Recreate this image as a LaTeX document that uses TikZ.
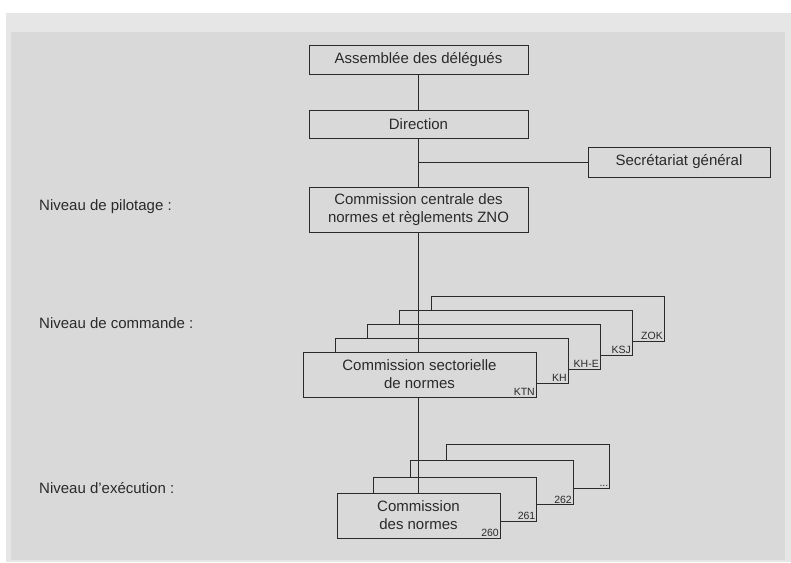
\documentclass[tikz,border=0pt]{standalone}
\usepackage{fontspec}
\setmainfont{Liberation Sans}
\definecolor{outerbg}{HTML}{E6E6E6}
\definecolor{innerbg}{HTML}{D9D9D9}
\definecolor{ink}{HTML}{2A2A2A}
\newcommand{\tagdots}{...}
\begin{document}
\begin{tikzpicture}[x=1pt,y=-1pt,
  box/.style={draw=ink, line width=1pt, fill=innerbg, rectangle, inner sep=0pt,
    align=center, text=ink, font=\fontsize{15}{18}\selectfont},
  tag/.style={inner sep=1.5pt, text=ink, font=\fontsize{10.5}{12}\selectfont, anchor=south east},
  lvl/.style={anchor=west, inner sep=0pt, text=ink, font=\fontsize{15}{17}\selectfont},
  link/.style={draw=ink, line width=1pt}]
\useasboundingbox (0,0) rectangle (791,562);
\fill[white] (0,0) rectangle (791,562);
\fill[outerbg] (6,13) rectangle (791,562);
\fill[innerbg] (11,32) rectangle (785,560);

% top chain
\node[box, minimum width=219pt, minimum height=29pt] (asm) at (418.5,59.5) {Assemblée des délégués};
\node[box, minimum width=219pt, minimum height=28pt] (dir) at (418.5,124) {Direction};
\node[box, minimum width=182pt, minimum height=30pt] (sec) at (679,162) {Secrétariat général};
\node[box, minimum width=219pt, minimum height=45pt] (zno) at (418.5,209.5) {Commission centrale des\\normes et règlements ZNO};

% left level labels
\node[lvl] (l1) at (39,207) {Niveau de pilotage :};
\node[lvl] (l2) at (39,323) {Niveau de commande :};
\node[lvl] (l3) at (39,488) {Niveau d'exécution :};

% sectoral commissions (back to front)
\foreach \k/\t in {4/ZOK,3/KSJ,2/KH-E,1/KH}{
  \node[box, minimum width=233pt, minimum height=45pt] (s\k) at ({419.5+32*\k},{374.5-14*\k}) {};
  \node[tag] (ts\k) at (s\k.south east) {\t};
}
\node[box, minimum width=233pt, minimum height=45pt] (s0) at (419.5,374.5) {Commission sectorielle\\de normes};
\node[tag] (ts0) at (s0.south east) {KTN};

% standards commissions (back to front)
\foreach \k/\t in {3/\tagdots,2/262,1/261}{
  \node[box, minimum width=163pt, minimum height=44pt] (n\k) at ({418.5+36.5*\k},{515.5-16.5*\k}) {};
  \node[tag] (tn\k) at (n\k.south east) {\t};
}
\node[box, minimum width=163pt, minimum height=45pt] (n0) at (418.5,515.5) {Commission\\des normes};
\node[tag] (tn0) at (n0.south east) {260};

% connectors
\coordinate (j) at (dir.south |- sec.west);
\draw[link] (asm.south) -- (dir.north);
\draw[link] (dir.south) -- (zno.north);
\draw[link] (j) -- (sec.west);
\draw[link] (zno.south) -- (zno.south |- s0.north);
\draw[link] (zno.south |- s0.south) -- (zno.south |- n0.north);
\end{tikzpicture}
\end{document}
